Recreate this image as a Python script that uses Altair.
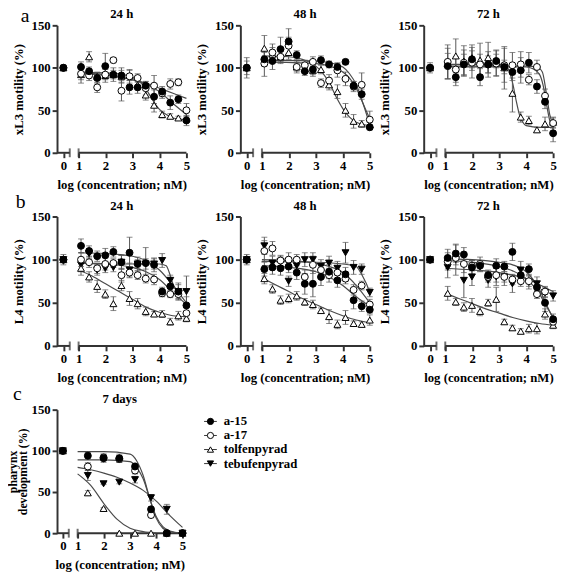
import altair as alt
import pandas as pd

FONT = "Liberation Serif"
AXC = "#333333"
FITC = "#4a4a4a"
ERRC = "#555555"

SERIES = ["a-15", "a-17", "tolfenpyrad", "tebufenpyrad"]
SHAPES = ["circle", "circle", "triangle-up", "triangle-down"]
FILLS = ["black", "white", "white", "black"]

# log10(concentration; nM); 0 = control
X14 = [0, 1.09, 1.39, 1.69, 1.99, 2.29, 2.59, 2.89, 3.19, 3.49, 3.80, 4.10, 4.40, 4.70, 5.00]
X7 = [0, 1.39, 1.99, 2.59, 3.19, 3.80, 4.40, 5.00]
XTICKS = [0, 1, 2, 3, 4, 5]
YTICKS = [0, 50, 100, 150]
XSEG_FROM = [-0.5, 1]
XSEG_TO = [0.5, 5]
XBREAKS = [0.5, 1]

# ---------------- a: xL3 motility ----------------
A24_A15 = [100, 101, 96, 88, 102, 92, 91, 77, 77, 79, 66, 72, 59, 63, 38]
A24_A15_E = [3, 6, 5, 6, 15, 8, 9, 8, 7, 5, 8, 6, 8, 5, 6]
A24_A17 = [100, 93, 91, 77, 92, 109, 73, 90, 88, 76, 79, 70, 81, 83, 50]
A24_A17_E = [2, 7, 6, 6, 6, 3, 12, 8, 5, 8, 12, 6, 6, 4, 8]
A24_TOL = [100, 92, 113, 90, 91, 92, 90, 91, 80, 68, 56, 45, 43, 41, 40]
A24_TOL_E = [3, 10, 6, 5, 8, 5, 7, 6, 6, 6, 8, 4, 3, 2, 3]
A24_FIT_A15 = [[1, 94], [2, 92], [3, 86], [3.5, 81], [4, 72], [4.5, 58], [5, 45]]
A24_FIT_A17 = [[1, 93], [2, 91], [3, 86], [3.5, 82], [4, 76], [4.5, 70], [5, 64]]
A24_FIT_TOL = [[1, 95], [2, 94], [2.5, 93], [3, 89], [3.25, 84], [3.5, 75], [3.75, 62],
               [4, 51], [4.25, 45], [4.5, 41], [5, 39]]

A48_A15 = [100, 110, 108, 122, 131, 115, 96, 98, 109, 104, 101, 107, 79, 69, 30]
A48_A15_E = [3, 8, 10, 14, 15, 5, 5, 8, 5, 4, 5, 3, 5, 6, 3]
A48_A17 = [100, 105, 118, 113, 126, 101, 103, 107, 82, 85, 97, 87, 78, 80, 39]
A48_A17_E = [8, 15, 10, 8, 10, 7, 6, 6, 5, 7, 8, 8, 6, 14, 10]
A48_TOL = [100, 123, 116, 113, 118, 101, 99, 97, 98, 80, 72, 50, 37, 34, 33]
A48_TOL_E = [12, 15, 8, 6, 8, 5, 4, 5, 5, 6, 8, 8, 8, 4, 3]
A48_FIT_A15 = [[1, 109], [3, 108], [3.5, 106], [4, 101], [4.25, 93], [4.5, 80], [4.75, 58], [5, 33]]
A48_FIT_A17 = [[1, 107], [3, 105], [3.5, 102], [4, 95], [4.25, 88], [4.5, 76], [4.75, 58], [5, 40]]
A48_FIT_TOL = [[1, 114], [2, 113], [2.5, 110], [3, 102], [3.25, 94], [3.5, 82], [3.75, 66],
               [4, 52], [4.25, 42], [4.5, 36], [5, 32]]

A72_A15 = [100, 102, 89, 104, 110, 89, 104, 108, 101, 95, 97, 106, 78, 60, 23]
A72_A15_E = [3, 15, 10, 12, 10, 10, 10, 8, 8, 10, 15, 12, 8, 8, 10]
A72_A17 = [100, 107, 98, 106, 106, 104, 104, 105, 103, 103, 104, 86, 101, 67, 35]
A72_A17_E = [6, 20, 15, 15, 18, 12, 15, 15, 20, 15, 15, 6, 8, 8, 6]
A72_TOL = [100, 105, 114, 108, 112, 109, 112, 106, 100, 70, 42, 38, 27, 34, 36]
A72_TOL_E = [3, 18, 20, 18, 15, 20, 18, 15, 25, 22, 6, 5, 3, 8, 6]
A72_FIT_A15 = [[1, 101], [4, 101], [4.25, 99], [4.5, 92], [4.625, 80], [4.75, 58], [4.875, 38], [5, 28]]
A72_FIT_A17 = [[1, 102], [4, 102], [4.4, 101], [4.6, 95], [4.75, 70], [4.875, 45], [5, 34]]
A72_FIT_TOL = [[1, 104], [3, 104], [3.25, 102], [3.375, 96], [3.5, 82], [3.625, 62], [3.75, 45],
               [3.875, 36], [4, 32], [4.5, 30], [5, 30]]

# ---------------- b: L4 motility ----------------
B24_A15 = [100, 116, 110, 104, 105, 109, 97, 108, 95, 96, 94, 63, 69, 63, 47]
B24_A15_E = [3, 8, 6, 6, 8, 6, 8, 18, 8, 18, 8, 5, 8, 8, 10]
B24_A17 = [100, 100, 97, 90, 95, 96, 82, 85, 82, 78, 77, 61, 60, 60, 38]
B24_A17_E = [3, 8, 6, 6, 7, 5, 8, 6, 5, 5, 6, 4, 4, 6, 6]
B24_TOL = [100, 90, 80, 69, 60, 49, 70, 55, 49, 40, 37, 37, 28, 35, 32]
B24_TOL_E = [6, 8, 6, 7, 5, 8, 6, 8, 6, 5, 3, 4, 4, 5, 4]
B24_TEBU = [100, 94, 107, 88, 90, 91, 97, 88, 95, 95, 95, 99, 76, 63, 63]
B24_TEBU_E = [3, 8, 6, 6, 5, 5, 8, 8, 5, 6, 6, 8, 6, 10, 18]
B24_FIT_A15 = [[1, 108], [2, 107], [3, 104], [3.5, 99], [4, 88], [4.5, 70], [5, 50]]
B24_FIT_A17 = [[1, 96], [2, 95], [3, 91], [3.5, 86], [4, 77], [4.5, 62], [5, 48]]
B24_FIT_TOL = [[1, 88], [1.5, 81], [2, 72], [2.5, 63], [3, 54], [3.5, 45], [4, 39], [4.5, 35], [5, 34]]
B24_FIT_TEBU = [[1, 96], [3, 95], [4, 95], [4.25, 93], [4.375, 84], [4.5, 72], [4.625, 66], [5, 64]]

B48_A15 = [100, 89, 91, 90, 92, 85, 72, 72, 80, 86, 76, 83, 53, 46, 42]
B48_A15_E = [3, 8, 8, 8, 7, 8, 12, 15, 10, 8, 8, 8, 10, 6, 4]
B48_A17 = [100, 110, 113, 99, 100, 100, 80, 94, 88, 82, 85, 78, 65, 70, 48]
B48_A17_E = [3, 12, 8, 6, 8, 6, 8, 10, 8, 8, 8, 6, 6, 5, 6]
B48_TOL = [100, 78, 66, 53, 55, 58, 51, 48, 41, 34, 25, 33, 26, 25, 30]
B48_TOL_E = [6, 6, 5, 5, 5, 5, 4, 5, 3, 8, 5, 8, 3, 3, 6]
B48_TEBU = [100, 116, 96, 98, 75, 93, 100, 100, 92, 96, 90, 108, 91, 89, 62]
B48_TEBU_E = [3, 10, 8, 6, 6, 8, 8, 8, 8, 8, 8, 12, 8, 6, 5]
B48_FIT_A15 = [[1, 93], [2, 91], [3, 86], [3.5, 80], [4, 70], [4.5, 57], [5, 46]]
B48_FIT_A17 = [[1, 100], [2, 99], [3, 96], [3.5, 92], [4, 85], [4.5, 70], [5, 50]]
B48_FIT_TOL = [[1, 79], [1.5, 71], [2, 63], [2.5, 55], [3, 48], [3.5, 41], [4, 35], [4.5, 30], [5, 27]]
B48_FIT_TEBU = [[1, 98], [3, 97], [4, 95], [4.5, 92], [4.625, 87], [4.75, 80], [4.875, 72], [5, 62]]

B72_A15 = [100, 102, 107, 106, 91, 93, 82, 93, 92, 109, 82, 89, 68, 50, 31]
B72_A15_E = [3, 10, 10, 8, 8, 6, 6, 8, 6, 10, 8, 6, 6, 10, 6]
B72_A17 = [100, 98, 102, 95, 93, 95, 80, 82, 80, 77, 75, 75, 60, 63, 28]
B72_A17_E = [3, 10, 8, 10, 6, 8, 6, 8, 6, 6, 6, 6, 5, 6, 5]
B72_TOL = [100, 61, 51, 45, 47, 40, 50, 54, 28, 21, 17, 20, 20, 37, 24]
B72_TOL_E = [3, 8, 4, 5, 8, 5, 4, 14, 3, 3, 3, 5, 6, 6, 4]
B72_TEBU = [100, 91, 100, 76, 80, 92, 76, 80, 80, 72, 88, 74, 72, 62, 58]
B72_TEBU_E = [3, 12, 18, 20, 10, 6, 8, 10, 10, 10, 10, 8, 8, 6, 6]
B72_FIT_A15 = [[1, 101], [2, 100], [3, 97], [3.5, 94], [4, 86], [4.5, 65], [4.75, 48], [5, 32]]
B72_FIT_A17 = [[1, 99], [2, 97], [3, 92], [3.5, 87], [4, 78], [4.5, 60], [4.75, 46], [5, 33]]
B72_FIT_TOL = [[1, 61], [1.5, 55], [2, 49], [2.5, 43], [3, 38], [3.5, 33], [4, 29], [4.5, 26], [5, 24]]
B72_FIT_TEBU = [[1, 90], [2, 88], [3, 85], [3.5, 82], [4, 78], [4.5, 71], [5, 63]]

# ---------------- c: pharynx development, 7 days ----------------
C_A15 = [100, 94, 91, 91, 81, 29, 0, 0]
C_A15_E = [3, 4, 5, 5, 4, 3, 1, 1]
C_A17 = [100, 81, 92, 90, 76, 22, 0, 0]
C_A17_E = [3, 5, 4, 4, 4, 3, 1, 1]
C_TOL = [100, 49, 30, 0, 0, 0, 0, 0]
C_TOL_E = [3, 3, 1, 1, 1, 1, 1, 1]
C_TEBU = [100, 70, 60, 62, 65, 43, 29, 0]
C_TEBU_E = [3, 6, 1, 2, 4, 4, 6, 1]
C_FIT_A15 = [[1, 89], [2, 89], [3, 87], [3.25, 80], [3.5, 66], [3.75, 42], [4, 20], [4.25, 8], [4.5, 3], [5, 0]]
C_FIT_A17 = [[1, 99], [2, 99], [3, 96], [3.25, 88], [3.5, 70], [3.75, 42], [4, 18], [4.25, 6], [4.5, 2], [5, 0]]
C_FIT_TOL = [[1, 72], [1.5, 58], [2, 36], [2.5, 17], [3, 6], [3.5, 2], [4, 0]]
C_FIT_TEBU = [[1, 80], [1.5, 77], [2, 73], [2.5, 68], [3, 61], [3.5, 52], [4, 39], [4.5, 22], [5, 7]]

LETTER_SIZE = 20


def panel(title, ytitle, xs, series, fits, w, h, xr, letter, letter_x, letter_y, show_letter,
          legend=False, ytitle_size=13, ytitle_lh=13, ytitle_pad=6):
    # draw a-15 last so that it is on top (as in the reference)
    pts = pd.DataFrame([
        {"series": name, "x": x, "y": v, "e": e}
        for name, vals, errs in reversed(series)
        for x, v, e in zip(xs, vals, errs)
    ])
    fit = pd.DataFrame([
        {"series": name, "i": i, "x": p[0], "y": p[1]}
        for name, pairs in fits
        for i, p in enumerate(pairs)
    ])
    seg = pd.DataFrame({"x": XSEG_FROM, "x2": XSEG_TO})
    brk = pd.DataFrame({"x": XBREAKS})

    xsc = alt.Scale(domain=[-0.5, 0.5, 1, 5], range=xr)
    ysc = alt.Scale(domain=[0, 150], nice=False)
    xax = alt.Axis(values=XTICKS, domain=False, title="log (concentration; nM)",
                   format="d", labelFlush=False)
    yax = alt.Axis(values=YTICKS, title=ytitle, titleLineHeight=ytitle_lh,
                   titleFontSize=ytitle_size, titlePadding=ytitle_pad)

    def X(f):
        return alt.X(f, type="quantitative", scale=xsc, axis=xax)

    def Y(f):
        return alt.Y(f, type="quantitative", scale=ysc, axis=yax)

    y0 = alt.YDatum(0, type="quantitative", scale=ysc, axis=yax)
    shape = alt.Shape("series:N", scale=alt.Scale(domain=SERIES, range=SHAPES), legend=None)
    fill = alt.Fill("series:N", scale=alt.Scale(domain=SERIES, range=FILLS), legend=None)

    axis_line = alt.Chart(seg).mark_rule(color=AXC, strokeWidth=2).encode(
        x=X("x"), x2="x2", y=y0)
    breaks = alt.Chart(brk).mark_tick(orient="vertical", size=9, thickness=2, color=AXC).encode(
        x=X("x"), y=y0)
    curves = alt.Chart(fit).mark_line(interpolate="monotone", color=FITC, strokeWidth=1.2).encode(
        x=X("x"), y=Y("y"), detail="series:N", order="i:Q")
    base = alt.Chart(pts).transform_calculate(lo="datum.y - datum.e", hi="datum.y + datum.e")
    err = base.mark_rule(color=ERRC, strokeWidth=1).encode(x=X("x"), y=Y("lo"), y2="hi:Q")
    cap_lo = base.mark_tick(orient="horizontal", size=6, thickness=1, color=ERRC).encode(
        x=X("x"), y=Y("lo"))
    cap_hi = base.mark_tick(orient="horizontal", size=6, thickness=1, color=ERRC).encode(
        x=X("x"), y=Y("hi"))
    points = alt.Chart(pts).mark_point(filled=True, size=50, stroke="black", strokeWidth=1,
                                       opacity=1).encode(x=X("x"), y=Y("y"), shape=shape, fill=fill)
    # panel letter: present in every panel of a row (same bounds), visible only in the first
    lab = alt.Chart(pd.DataFrame({"t": [letter]})).mark_text(
        font=FONT, fontSize=LETTER_SIZE, align="left", baseline="alphabetic",
        color="black", opacity=1 if show_letter else 0).encode(
        x=alt.value(letter_x), y=alt.value(letter_y), text="t:N")
    # title sits just above the plot: undo the lift caused by the letter's bounds
    title_dy = -4 - (letter_y - 0.8 * LETTER_SIZE)

    main = alt.layer(axis_line, breaks, curves, err, cap_lo, cap_hi, points, lab)
    if legend:
        ldf = pd.DataFrame({"series": SERIES})
        ly = alt.Y("series:N", sort=SERIES, axis=None,
                   scale=alt.Scale(type="point", domain=SERIES, range=[12, 55], padding=0))
        lrule = alt.Chart(ldf).mark_rule(color=AXC, strokeWidth=1).encode(
            x=alt.value(150), x2=alt.value(163), y=ly)
        lpt = alt.Chart(ldf).mark_point(filled=True, size=40, stroke="black", strokeWidth=1,
                                        opacity=1).encode(x=alt.value(156.5), y=ly, shape=shape, fill=fill)
        ltxt = alt.Chart(ldf).mark_text(font=FONT, fontSize=13, fontWeight="bold", align="left",
                                        baseline="middle", color="black").encode(
            x=alt.value(170), y=ly, text="series:N")
        main = alt.layer(main, alt.layer(lrule, lpt, ltxt)).resolve_scale(y="independent")
    return main.properties(width=w, height=h,
                           title=alt.TitleParams(title, offset=0, dy=title_dy))


XR = [0, 13, 22, 132]
XRC = [0, 12, 21, 128]
YA = "xL3 motility (%)"
YB = "L4 motility (%)"


def a_series(a15, a15e, a17, a17e, tol, tole):
    return [("a-15", a15, a15e), ("a-17", a17, a17e), ("tolfenpyrad", tol, tole)]


A_ARGS = dict(w=132, h=130, xr=XR, letter="a", letter_x=-37, letter_y=-3)
pA24 = panel("24 h", YA, X14, a_series(A24_A15, A24_A15_E, A24_A17, A24_A17_E, A24_TOL, A24_TOL_E),
             [("a-15", A24_FIT_A15), ("a-17", A24_FIT_A17), ("tolfenpyrad", A24_FIT_TOL)],
             show_letter=True, **A_ARGS)
pA48 = panel("48 h", YA, X14, a_series(A48_A15, A48_A15_E, A48_A17, A48_A17_E, A48_TOL, A48_TOL_E),
             [("a-15", A48_FIT_A15), ("a-17", A48_FIT_A17), ("tolfenpyrad", A48_FIT_TOL)],
             show_letter=False, **A_ARGS)
pA72 = panel("72 h", YA, X14, a_series(A72_A15, A72_A15_E, A72_A17, A72_A17_E, A72_TOL, A72_TOL_E),
             [("a-15", A72_FIT_A15), ("a-17", A72_FIT_A17), ("tolfenpyrad", A72_FIT_TOL)],
             show_letter=False, **A_ARGS)

B_ARGS = dict(w=132, h=132, xr=XR, letter="b", letter_x=-42, letter_y=-9)
pB24 = panel("24 h", YB, X14,
             [("a-15", B24_A15, B24_A15_E), ("a-17", B24_A17, B24_A17_E),
              ("tolfenpyrad", B24_TOL, B24_TOL_E), ("tebufenpyrad", B24_TEBU, B24_TEBU_E)],
             [("a-15", B24_FIT_A15), ("a-17", B24_FIT_A17),
              ("tolfenpyrad", B24_FIT_TOL), ("tebufenpyrad", B24_FIT_TEBU)],
             show_letter=True, **B_ARGS)
pB48 = panel("48 h", YB, X14,
             [("a-15", B48_A15, B48_A15_E), ("a-17", B48_A17, B48_A17_E),
              ("tolfenpyrad", B48_TOL, B48_TOL_E), ("tebufenpyrad", B48_TEBU, B48_TEBU_E)],
             [("a-15", B48_FIT_A15), ("a-17", B48_FIT_A17),
              ("tolfenpyrad", B48_FIT_TOL), ("tebufenpyrad", B48_FIT_TEBU)],
             show_letter=False, **B_ARGS)
pB72 = panel("72 h", YB, X14,
             [("a-15", B72_A15, B72_A15_E), ("a-17", B72_A17, B72_A17_E),
              ("tolfenpyrad", B72_TOL, B72_TOL_E), ("tebufenpyrad", B72_TEBU, B72_TEBU_E)],
             [("a-15", B72_FIT_A15), ("a-17", B72_FIT_A17),
              ("tolfenpyrad", B72_FIT_TOL), ("tebufenpyrad", B72_FIT_TEBU)],
             show_letter=False, **B_ARGS)

pC = panel("7 days", ["pharynx", "development (%)"], X7,
           [("a-15", C_A15, C_A15_E), ("a-17", C_A17, C_A17_E),
            ("tolfenpyrad", C_TOL, C_TOL_E), ("tebufenpyrad", C_TEBU, C_TEBU_E)],
           [("a-15", C_FIT_A15), ("a-17", C_FIT_A17),
            ("tolfenpyrad", C_FIT_TOL), ("tebufenpyrad", C_FIT_TEBU)],
           128, 126, XRC, "c", -45, -10, True, legend=True,
           ytitle_size=12, ytitle_lh=10, ytitle_pad=2)

chart = alt.concat(pA24, pA48, pA72, pB24, pB48, pB72, pC, columns=3,
                   spacing=alt.RowColnumber(row=65, column=55), bounds="flush").properties(
    padding={"left": -2, "top": -7, "right": 0, "bottom": 0})

chart = chart.configure_view(stroke=None).configure_axis(
    labelFont=FONT, labelFontSize=13, labelFontWeight="bold", labelColor="black",
    titleFont=FONT, titleFontSize=13, titleFontWeight="bold", titleColor="black",
    domainColor=AXC, domainWidth=2, tickColor=AXC, tickWidth=2, tickSize=5,
    labelPadding=2, titlePadding=6, grid=False,
).configure_title(font=FONT, fontSize=13, fontWeight="bold", anchor="middle", color="black")

chart.save("out.html", embed_options={"renderer": "svg", "actions": False})
